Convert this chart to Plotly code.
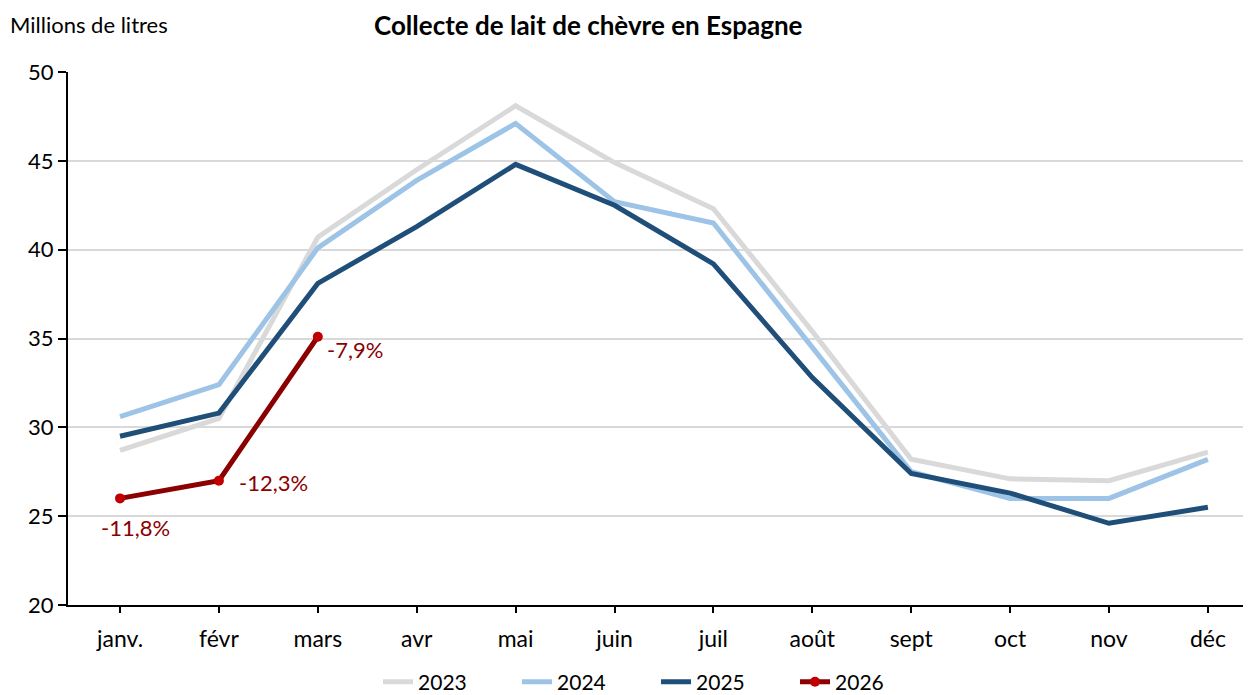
import plotly.graph_objects as go

months = ["janv.", "févr", "mars", "avr", "mai", "juin", "juil", "août", "sept", "oct", "nov", "déc"]
y2023 = [28.7, 30.5, 40.7, 44.5, 48.1, 44.9, 42.3, 35.4, 28.2, 27.1, 27.0, 28.6]
y2024 = [30.6, 32.4, 40.1, 43.9, 47.1, 42.7, 41.5, 34.5, 27.5, 26.0, 26.0, 28.2]
y2025 = [29.5, 30.8, 38.1, 41.3, 44.8, 42.5, 39.2, 32.8, 27.4, 26.3, 24.6, 25.5]
y2026 = [26.0, 27.0, 35.1]
labels2026 = ["-11,8%", "-12,3%", "-7,9%"]

FONT = "Lato, 'Open Sans', sans-serif"
RED_LINE = "#8B0000"
RED_MARK = "#C00000"

fig = go.Figure()
fig.add_trace(go.Scatter(x=months, y=y2023, name="2023", mode="lines",
                         line=dict(color="#D9D9D9", width=5)))
fig.add_trace(go.Scatter(x=months, y=y2024, name="2024", mode="lines",
                         line=dict(color="#9DC3E6", width=5)))
fig.add_trace(go.Scatter(x=months, y=y2025, name="2025", mode="lines",
                         line=dict(color="#1F4E79", width=5)))
fig.add_trace(go.Scatter(x=months[:3], y=y2026, name="2026", mode="lines+markers",
                         line=dict(color=RED_LINE, width=5),
                         marker=dict(color=RED_MARK, size=10)))

# data labels for 2026: (xshift, yshift, xanchor)
offsets = [(15, -29, "center"), (18, -2, "left"), (7, -13, "left")]
for i, (lab, (dx, dy, al)) in enumerate(zip(labels2026, offsets)):
    fig.add_annotation(x=months[i], y=y2026[i], text=lab, showarrow=False,
                       xshift=dx, yshift=dy, xanchor=al, yanchor="middle",
                       font=dict(color=RED_LINE, size=22, family=FONT))

fig.add_annotation(xref="paper", yref="paper", x=0.4396, y=1.0882,
                   text="<b>Collecte de lait de chèvre en Espagne</b>", showarrow=False,
                   xanchor="center", yanchor="middle",
                   font=dict(size=26, color="black", family=FONT))
fig.add_annotation(xref="paper", yref="paper", x=-0.0505, y=1.0900,
                   text="Millions de litres", showarrow=False,
                   xanchor="left", yanchor="middle",
                   font=dict(size=22, color="black", family=FONT))

fig.update_layout(
    width=1251, height=695,
    margin=dict(l=60, r=8, t=64, b=98, autoexpand=False),
    paper_bgcolor="white", plot_bgcolor="white",
    font=dict(family=FONT, size=22, color="black"),
    showlegend=True,
    legend=dict(orientation="h", x=0.518, xanchor="center", xref="container",
                y=0.0302, yanchor="middle", yref="container",
                entrywidth=94, entrywidthmode="pixels",
                font=dict(size=21), tracegroupgap=0),
    xaxis=dict(type="category", range=[-0.526, 11.436], showgrid=False, automargin=False,
               showline=True, linecolor="black", linewidth=2,
               ticks="outside", ticklen=6, tickwidth=2, tickcolor="black",
               tickfont=dict(size=23), ticklabelstandoff=6),
    yaxis=dict(range=[20, 50], dtick=5, showgrid=True, gridcolor="#D9D9D9", gridwidth=2,
               showline=True, linecolor="black", linewidth=2, zeroline=False, automargin=False,
               ticks="outside", ticklen=8, tickwidth=2, tickcolor="black",
               tickfont=dict(size=22)),
)

fig.write_html("out.html")
